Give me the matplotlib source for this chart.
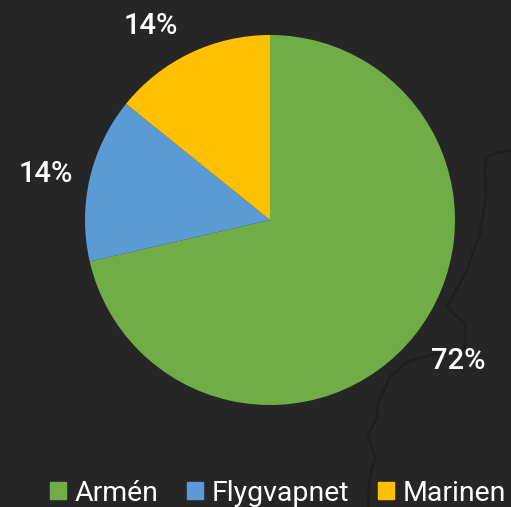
import matplotlib
matplotlib.use("Agg")
import matplotlib.pyplot as plt
from matplotlib.patches import Patch

labels = ["Armén", "Flygvapnet", "Marinen"]
shares = [71.4, 14.4, 14.2]
share_text = ["72%", "14%", "14%"]
colors = ["#70AD47", "#5B9BD5", "#FFC000"]
border_x = [511, 497, 486, 485, 486, 480, 467, 447, 455, 465, 466, 463, 445, 430, 407, 390, 378, 377, 368, 375, 370, 368]
border_y = [150, 153, 157, 173, 197, 233, 270, 307, 315, 323, 337, 352, 353, 355, 362, 377, 403, 417, 435, 458, 477, 507]

BG = "#262626"
W, H = 511, 507

plt.rcParams["font.family"] = ["Roboto", "DejaVu Sans"]

fig = plt.figure(figsize=(W / 100, H / 100), dpi=100, facecolor=BG)

# backdrop map line in pixel coordinates
bg = fig.add_axes([0, 0, 1, 1])
bg.set_xlim(0, W)
bg.set_ylim(H, 0)
bg.axis("off")
bg.plot(border_x, border_y, color="#1e1e1e", lw=2)

# pie centre 270,220 radius 185
ax = fig.add_axes([85 / W, (H - 405) / H, 370 / W, 370 / H])
wedges, _ = ax.pie(shares, colors=colors, startangle=90, counterclock=False, radius=1)
ax.set_xlim(-1, 1)
ax.set_ylim(-1, 1)

label_pos = [(458, 361), (46, 174), (151, 26)]
for txt, (x, y) in zip(share_text, label_pos):
    bg.text(x, y, txt, color="white", fontsize=21, fontweight="medium", ha="center", va="center", zorder=5)

leg = fig.legend(
    handles=[Patch(color=c, label=l) for c, l in zip(colors, labels)],
    loc="lower right", bbox_to_anchor=(1.034, -0.044), ncol=3, frameon=False,
    fontsize=20.5, labelcolor="white", handlelength=0.56, handleheight=0.56,
    handletextpad=0.3, columnspacing=1.0, borderpad=0.3,
)

fig.savefig("out.png", dpi=100, facecolor=BG)
